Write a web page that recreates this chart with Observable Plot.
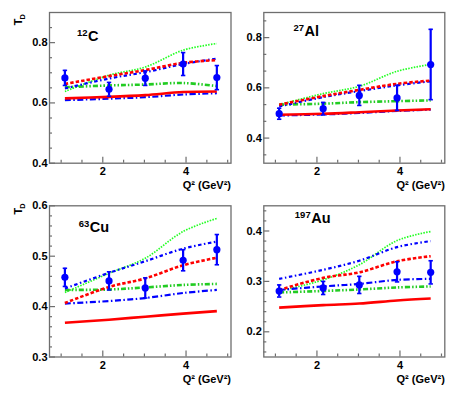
<!DOCTYPE html>
<html>
<head>
<meta charset="utf-8">
<script src="https://cdn.jsdelivr.net/npm/d3@7"></script>
<script src="https://cdn.jsdelivr.net/npm/@observablehq/plot@0.6"></script>
<style>
  html, body { margin: 0; padding: 0; background: #fff; }
  #wrap { position: relative; width: 473px; height: 394px; background: #fff; overflow: hidden; }
  #wrap > div { position: absolute; }
</style>
</head>
<body>
<div id="wrap"></div>
<script>
// ---- data ----
const q2 = [1.09, 2.15, 3.02, 3.93, 4.74];
const xTicksMajor = [2, 4];
const xTicksMinor = [1, 1.5, 2.5, 3, 3.5, 4.5, 5];
const xTitle = "Q\u00b2 (GeV\u00b2)";
const yTitle = "T";
const yTitleSub = "D";

// 12C
const cT = [0.683, 0.645, 0.682, 0.729, 0.684];
const cErr = [0.025, 0.023, 0.024, 0.038, 0.040];
const cRedSolid = [0.615, 0.620, 0.626, 0.636, 0.638];
const cRedDash = [0.663, 0.689, 0.709, 0.733, 0.742];
const cBlueDot = [0.648, 0.681, 0.702, 0.729, 0.747];
const cBlueDashDot = [0.609, 0.614, 0.619, 0.628, 0.632];
const cGreenDashDot = [0.652, 0.658, 0.661, 0.666, 0.656];
const cGreenDot = [0.638, 0.692, 0.719, 0.775, 0.797];
const cYLabels = [0.4, 0.6, 0.8];
const cYMinor = [0.45, 0.5, 0.55, 0.65, 0.7, 0.75, 0.85];

// 27Al
const alT = [0.497, 0.517, 0.570, 0.560, 0.693];
const alErr = [0.022, 0.025, 0.040, 0.050, 0.140];
const alRedSolid = [0.493, 0.497, 0.503, 0.510, 0.515];
const alRedDash = [0.533, 0.567, 0.592, 0.616, 0.629];
const alBlueDot = [0.526, 0.563, 0.587, 0.610, 0.626];
const alBlueDashDot = [0.490, 0.494, 0.500, 0.508, 0.513];
const alGreenDashDot = [0.533, 0.537, 0.543, 0.547, 0.550];
const alGreenDot = [0.533, 0.577, 0.606, 0.666, 0.693];
const alYLabels = [0.4, 0.6, 0.8];
const alYMinor = [0.3333, 0.4667, 0.5333, 0.6667, 0.7333, 0.8667];

// 63Cu
const cuT = [0.458, 0.451, 0.437, 0.492, 0.513];
const cuErr = [0.018, 0.018, 0.020, 0.021, 0.030];
const cuRedSolid = [0.368, 0.374, 0.380, 0.386, 0.391];
const cuRedDash = [0.407, 0.439, 0.456, 0.482, 0.497];
const cuBlueDot = [0.436, 0.467, 0.490, 0.515, 0.529];
const cuBlueDashDot = [0.406, 0.411, 0.417, 0.427, 0.433];
const cuGreenDashDot = [0.433, 0.434, 0.438, 0.443, 0.445];
const cuGreenDot = [0.428, 0.466, 0.496, 0.549, 0.575];
const cuYLabels = [0.3, 0.4, 0.5, 0.6];
const cuYMinor = [0.32, 0.34, 0.36, 0.38, 0.42, 0.44, 0.46, 0.48, 0.52, 0.54, 0.56, 0.58];

// 197Au
const auT = [0.281, 0.287, 0.293, 0.319, 0.318];
const auErr = [0.012, 0.013, 0.017, 0.020, 0.023];
const auRedSolid = [0.248, 0.253, 0.256, 0.262, 0.266];
const auRedDash = [0.283, 0.307, 0.318, 0.340, 0.350];
const auBlueDot = [0.305, 0.323, 0.341, 0.368, 0.380];
const auBlueDashDot = [0.283, 0.290, 0.295, 0.303, 0.305];
const auGreenDashDot = [0.278, 0.281, 0.284, 0.288, 0.290];
const auGreenDot = [0.281, 0.303, 0.333, 0.381, 0.399];
const auYLabels = [0.2, 0.3, 0.4];
const auYMinor = [0.16, 0.18, 0.22, 0.24, 0.26, 0.28, 0.32, 0.34, 0.36, 0.38, 0.42, 0.44];

// ---- styles ----
const styles = {
  redSolid: {stroke: "#ff0000", strokeWidth: 2.6},
  redDash: {stroke: "#ff0000", strokeWidth: 2.6, strokeDasharray: "3.5,2"},
  blueDot: {stroke: "#0000ff", strokeWidth: 2.2, strokeDasharray: "3.5,2.5,1.5,2.5"},
  blueDashDot: {stroke: "#0000ff", strokeWidth: 2.2, strokeDasharray: "6,2.5,1.5,2.5"},
  greenDashDot: {stroke: "#22cc22", strokeWidth: 2.6, strokeDasharray: "5,2,1.5,2,1.5,2"},
  greenDot: {stroke: "#22ff22", strokeWidth: 1.7, strokeDasharray: "1.5,1.3"}
};
const frameColor = "#6e6e6e";
const fontFamily = "'Liberation Sans', Arial, Helvetica, sans-serif";
const xDomain = [0.72, 5.08];

const capSymbol = {draw(ctx, size) { ctx.moveTo(-2.2, 0); ctx.lineTo(2.2, 0); }};

function panel(cfg) {
  const pts = q2.map((x, i) => ({x, y: cfg.values[i], lo: cfg.values[i] - cfg.errs[i], hi: cfg.values[i] + cfg.errs[i]}));
  const curveMarks = [
    ["greenDot", cfg.curves.greenDot],
    ["greenDashDot", cfg.curves.greenDashDot],
    ["blueDashDot", cfg.curves.blueDashDot],
    ["redSolid", cfg.curves.redSolid],
    ["blueDot", cfg.curves.blueDot],
    ["redDash", cfg.curves.redDash]
  ].map(([k, arr]) => Plot.line(q2.map((x, i) => ({x, y: arr[i]})), {x: "x", y: "y", curve: "catmull-rom", strokeLinecap: "butt", ...styles[k]}));

  const marks = [
    ...curveMarks,
    Plot.ruleX(pts, {x: "x", y1: "lo", y2: "hi", stroke: "#0000ff", strokeWidth: 2.2}),
    Plot.dot(pts, {x: "x", y: "lo", symbol: capSymbol, stroke: "#0000ff", strokeWidth: 1.6, r: 2}),
    Plot.dot(pts, {x: "x", y: "hi", symbol: capSymbol, stroke: "#0000ff", strokeWidth: 1.6, r: 2}),
    Plot.dot(pts, {x: "x", y: "y", r: 3.6, fill: "#0000ff", stroke: "none"}),
    Plot.frame({stroke: frameColor, strokeWidth: 1.3}),
    // inner ticks
    Plot.axisX(xTicksMajor, {tickSize: 6, dy: -6, tickFormat: () => "", label: null, stroke: frameColor, strokeWidth: 1.2}),
    Plot.axisX(xTicksMinor, {tickSize: 3, dy: -3, tickFormat: () => "", label: null, stroke: frameColor, strokeWidth: 1.2}),
    Plot.axisY(cfg.yLabels, {tickSize: 6, dx: 6, tickFormat: () => "", label: null, stroke: frameColor, strokeWidth: 1.2}),
    Plot.axisY(cfg.yMinor, {tickSize: 3, dx: 3, tickFormat: () => "", label: null, stroke: frameColor, strokeWidth: 1.2}),
    // labels
    Plot.axisX(xTicksMajor, {tickSize: 0, tickPadding: 4, tickFormat: d => String(d), label: null, fontSize: 11, fontWeight: "bold", fill: "#000"}),
    Plot.axisY(cfg.yLabels, {tickSize: 0, tickPadding: 2, tickFormat: d => d.toFixed(1), label: null, fontSize: 11, fontWeight: "bold", fill: "#000"}),
    Plot.text([cfg.sym], {frameAnchor: "top-left", text: d => d, dx: cfg.symDx, dy: cfg.symDy, textAnchor: "start", lineAnchor: "bottom", fontSize: 14.5, fontWeight: "bold", fill: "#000"}),
    Plot.text([cfg.sup], {frameAnchor: "top-left", text: d => d, dx: cfg.symDx - 0.5, dy: cfg.symDy - 5.5, textAnchor: "end", lineAnchor: "bottom", fontSize: 9.5, fontWeight: "bold", fill: "#000"}),
    Plot.text([xTitle], {frameAnchor: "bottom-right", text: d => d, dy: 26, textAnchor: "end", lineAnchor: "bottom", fontSize: 11, fontWeight: "bold", fill: "#000"})
  ];
  if (cfg.showY) {
    marks.push(
      Plot.text([yTitle], {frameAnchor: "top-left", text: d => d, rotate: -90, dx: -28, dy: cfg.tDy, textAnchor: "end", lineAnchor: "bottom", fontSize: 11, fontWeight: "bold", fill: "#000"}),
      Plot.text([yTitleSub], {frameAnchor: "top-left", text: d => d, rotate: -90, dx: -25, dy: cfg.tDy - 4.5, textAnchor: "end", lineAnchor: "bottom", fontSize: 7.5, fontWeight: "bold", fill: "#000"})
    );
  }
  const svg = Plot.plot({
    width: cfg.w, height: cfg.h,
    marginLeft: cfg.mL, marginRight: cfg.mR, marginTop: cfg.mT, marginBottom: cfg.mB,
    x: {domain: xDomain},
    y: {domain: cfg.yDomain},
    style: {fontFamily, fontSize: "11px", background: "transparent", overflow: "visible"},
    marks
  });
  const holder = document.createElement("div");
  holder.style.left = cfg.left + "px";
  holder.style.top = cfg.top + "px";
  holder.appendChild(svg);
  document.getElementById("wrap").appendChild(holder);
}

panel({left: 0, top: 0, w: 236, h: 197, mL: 49, mR: 5.5, mT: 12, mB: 34.3,
  yDomain: [0.4, 0.9], yLabels: cYLabels, yMinor: cYMinor, values: cT, errs: cErr,
  curves: {redSolid: cRedSolid, redDash: cRedDash, blueDot: cBlueDot, blueDashDot: cBlueDashDot, greenDashDot: cGreenDashDot, greenDot: cGreenDot},
  sym: "C", sup: "12", symDx: 38.5, symDy: 28.5, showY: true, tDy: 6});
panel({left: 236, top: 0, w: 237, h: 197, mL: 27.3, mR: 28.7, mT: 12, mB: 34.3,
  yDomain: [0.3, 0.9], yLabels: alYLabels, yMinor: alYMinor, values: alT, errs: alErr,
  curves: {redSolid: alRedSolid, redDash: alRedDash, blueDot: alBlueDot, blueDashDot: alBlueDashDot, greenDashDot: alGreenDashDot, greenDot: alGreenDot},
  sym: "Al", sup: "27", symDx: 40.7, symDy: 23.5, showY: false});
panel({left: 0, top: 197, w: 236, h: 197, mL: 49, mR: 5.5, mT: 8.3, mB: 37.5,
  yDomain: [0.3, 0.6], yLabels: cuYLabels, yMinor: cuYMinor, values: cuT, errs: cuErr,
  curves: {redSolid: cuRedSolid, redDash: cuRedDash, blueDot: cuBlueDot, blueDashDot: cuBlueDashDot, greenDashDot: cuGreenDashDot, greenDot: cuGreenDot},
  sym: "Cu", sup: "63", symDx: 40.3, symDy: 26.4, showY: true, tDy: 2});
panel({left: 236, top: 197, w: 237, h: 197, mL: 27.3, mR: 28.7, mT: 8.3, mB: 37.5,
  yDomain: [0.15, 0.45], yLabels: auYLabels, yMinor: auYMinor, values: auT, errs: auErr,
  curves: {redSolid: auRedSolid, redDash: auRedDash, blueDot: auBlueDot, blueDashDot: auBlueDashDot, greenDashDot: auGreenDashDot, greenDot: auGreenDot},
  sym: "Au", sup: "197", symDx: 47.4, symDy: 17.4, showY: false});
</script>
</body>
</html>
